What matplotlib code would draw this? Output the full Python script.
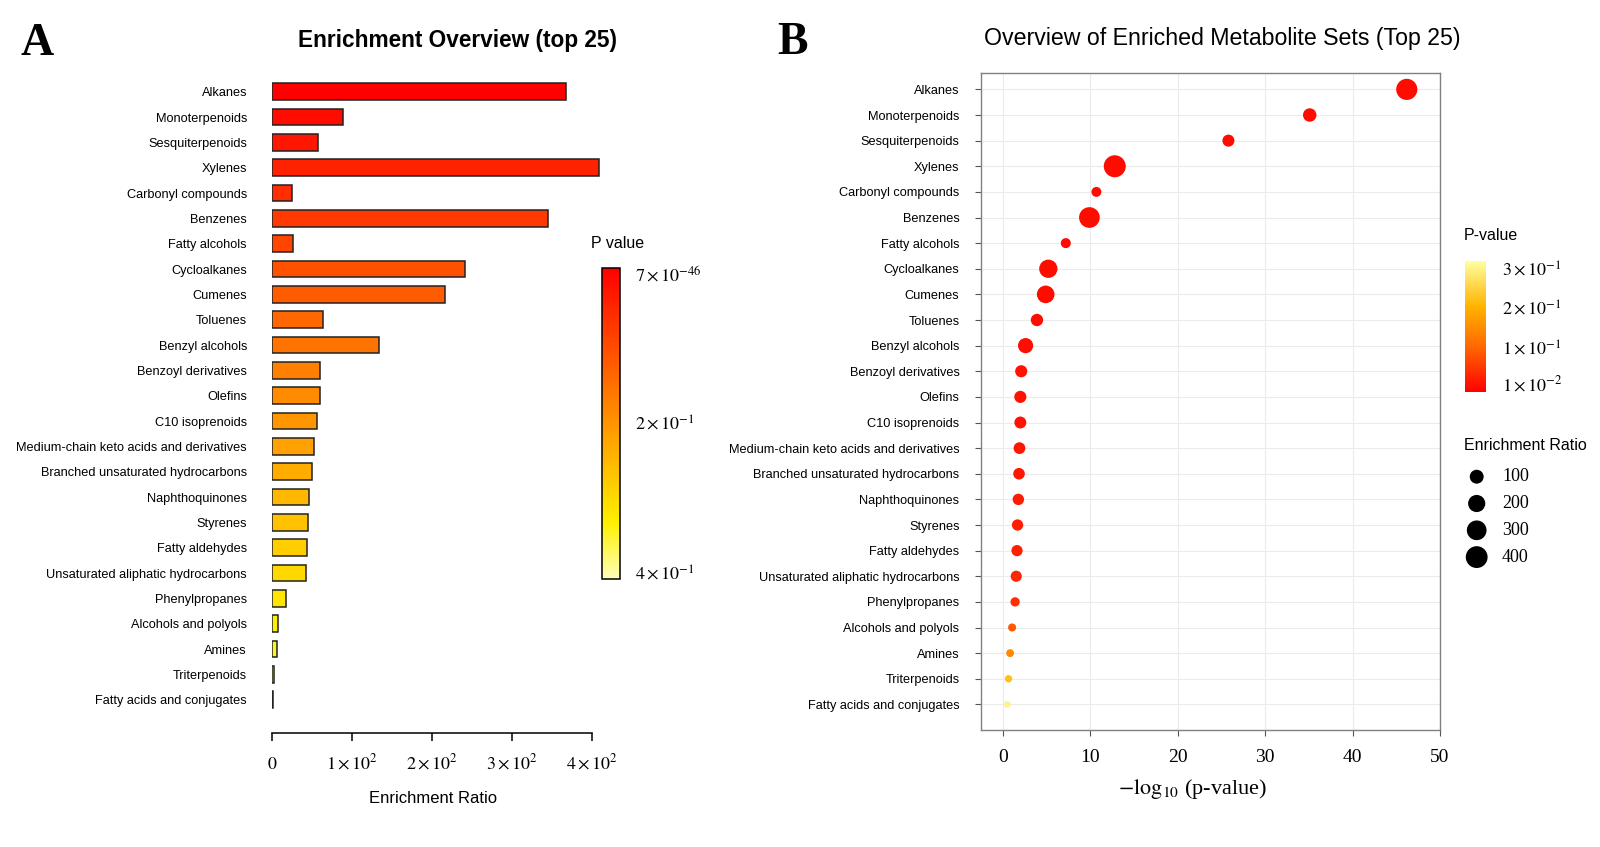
import matplotlib
matplotlib.use('Agg')
import matplotlib.pyplot as plt
import numpy as np
from matplotlib.colors import LinearSegmentedColormap, Normalize
from matplotlib.cm import ScalarMappable

plt.rcParams['font.family'] = ['Liberation Sans', 'DejaVu Sans']
plt.rcParams['mathtext.fontset'] = 'stix'

# metabolite sets, top 25
categories = ['Alkanes', 'Monoterpenoids', 'Sesquiterpenoids', 'Xylenes',
              'Carbonyl compounds', 'Benzenes', 'Fatty alcohols', 'Cycloalkanes',
              'Cumenes', 'Toluenes', 'Benzyl alcohols', 'Benzoyl derivatives',
              'Olefins', 'C10 isoprenoids', 'Medium-chain keto acids and derivatives',
              'Branched unsaturated hydrocarbons', 'Naphthoquinones', 'Styrenes',
              'Fatty aldehydes', 'Unsaturated aliphatic hydrocarbons', 'Phenylpropanes',
              'Alcohols and polyols', 'Amines', 'Triterpenoids', 'Fatty acids and conjugates']

enrichment_ratio = [367, 88.5, 58, 408, 24.7, 344.5, 26, 241, 216, 64, 134, 60, 60,
                    56.6, 52.8, 50, 46.4, 45, 43.8, 42.6, 17, 7, 5.7, 3.1, 1.0]

neg_log10_p = [46.2, 35.1, 25.8, 12.8, 10.7, 9.9, 7.2, 5.2, 4.9, 3.9, 2.6, 2.1, 2.0,
               2.0, 1.9, 1.85, 1.77, 1.68, 1.62, 1.53, 1.4, 1.06, 0.83, 0.65, 0.52]

# axis / legend labels
er_ticks = [0, 100, 200, 300, 400]
er_tick_labels = [r'$0$', r'$1\times10^{2}$', r'$2\times10^{2}$', r'$3\times10^{2}$', r'$4\times10^{2}$']
pa_ticks = [7e-46, 0.2, 0.4]
pa_tick_labels = [r'$7\times10^{-46}$', r'$2\times10^{-1}$', r'$4\times10^{-1}$']
pb_ticks = [0.01, 0.1, 0.2, 0.3]
pb_tick_labels = [r'$1\times10^{-2}$', r'$1\times10^{-1}$', r'$2\times10^{-1}$', r'$3\times10^{-1}$']
logp_ticks = [0, 10, 20, 30, 40, 50]
size_breaks = [100, 200, 300, 400]

W, H = 1600, 847
n = len(categories)
ypos = np.arange(n)
pvals = 10 ** (-np.array(neg_log10_p))

cmap_a = LinearSegmentedColormap.from_list('heat_a', [(0, '#FF0000'), (0.5, '#FF9500'),
                                                      (0.82, '#FFF000'), (1, '#FFFFB8')])
cmap_b = LinearSegmentedColormap.from_list('heat_b', [(0, '#FF0000'), (0.35, '#FF6A00'),
                                                      (0.65, '#FFB300'), (1, '#FFFFA0')])


def fig_box(x0, y0, x1, y1):
    # pixel box (top-left origin) -> figure fraction rect
    return [x0 / W, 1 - y1 / H, (x1 - x0) / W, (y1 - y0) / H]


def dot_size(er):
    d_px = 6 + 16 * np.sqrt(np.asarray(er, dtype=float) / 409)
    return (d_px * 0.72) ** 2


fig = plt.figure(figsize=(16, 8.47), dpi=100)

# ---------------- panel A ----------------
ax1 = fig.add_axes(fig_box(272, 74, 272 + 420 * 0.801, 732.7))
bar_colors = cmap_a(np.linspace(0, 0.93, n))
ax1.barh(ypos, enrichment_ratio, height=0.66, color=bar_colors,
         edgecolor='#222222', linewidth=1.1)
ax1.set_xlim(0, 420)
ax1.set_ylim(25.3, -0.7)
for s in ['top', 'right', 'left']:
    ax1.spines[s].set_visible(False)
ax1.spines['bottom'].set_bounds(0, 400)
ax1.spines['bottom'].set_linewidth(1.1)
ax1.set_xticks(er_ticks)
ax1.set_xticklabels(er_tick_labels, fontsize=13)
for t in ax1.get_xticklabels():
    t.set_va('baseline')
ax1.tick_params(axis='x', length=6, width=1.1, pad=20)
ax1.set_yticks(ypos)
ax1.set_yticklabels(categories, fontsize=9.2)
ax1.tick_params(axis='y', length=0, pad=18)

fig.text(433 / W, 1 - 798 / H, 'Enrichment Ratio', ha='center', va='center', fontsize=12)
fig.text(458 / W, 1 - 40 / H, 'Enrichment Overview (top 25)', ha='center', va='center',
         fontsize=16.3, weight='bold')
fig.text(37.5 / W, 1 - 44 / H, 'A', ha='center', va='center', fontsize=33,
         weight='bold', family=['Liberation Serif'])

cax1 = fig.add_axes(fig_box(602.3, 267.7, 620, 579))
sm1 = ScalarMappable(norm=Normalize(-0.007, 0.408), cmap=cmap_a)
cb1 = fig.colorbar(sm1, cax=cax1)
cax1.invert_yaxis()
cb1.set_ticks(pa_ticks)
cb1.set_ticklabels(pa_tick_labels, fontsize=13)
cb1.outline.set_linewidth(1.1)
cax1.tick_params(length=0, pad=11)
fig.text(618 / W, 1 - 243 / H, 'P value', ha='center', va='center', fontsize=11.5)

# ---------------- panel B ----------------
ax2 = fig.add_axes(fig_box(981, 73.5, 1440, 730))
normb = Normalize(-0.012, 0.32)
ax2.scatter(neg_log10_p, ypos, s=dot_size(enrichment_ratio), c=cmap_b(normb(pvals)),
            edgecolors='none', zorder=3)
ax2.set_xlim(-2.5, 50)
ax2.set_ylim(25.0, -0.62)
ax2.set_xticks(logp_ticks)
ax2.set_xticklabels([str(v) for v in logp_ticks], fontsize=14, family=['Liberation Serif'])
ax2.set_yticks(ypos)
ax2.set_yticklabels(categories, fontsize=9.2)
ax2.tick_params(axis='both', length=4, width=0.8, color='#555555')
ax2.tick_params(axis='y', pad=11.5)
ax2.tick_params(axis='x', pad=10)
ax2.grid(True, color='#ebebeb', linewidth=0.8, zorder=0)
ax2.set_axisbelow(True)
for s in ax2.spines.values():
    s.set_color('#808080')
    s.set_linewidth(1.0)

fig.text(1192 / W, 1 - 789 / H, r'$-\mathrm{log}_{10}$ (p-value)', ha='center', va='center',
         fontsize=16, family=['Liberation Serif'])
fig.text(1222 / W, 1 - 38 / H, 'Overview of Enriched Metabolite Sets (Top 25)',
         ha='center', va='center', fontsize=16.7)
fig.text(793 / W, 1 - 43 / H, 'B', ha='center', va='center', fontsize=33,
         weight='bold', family=['Liberation Serif'])

cax2 = fig.add_axes(fig_box(1465, 260.7, 1486, 391.7))
cb2 = fig.colorbar(ScalarMappable(norm=normb, cmap=cmap_b), cax=cax2)
cb2.set_ticks(pb_ticks)
cb2.set_ticklabels(pb_tick_labels, fontsize=13)
cb2.outline.set_visible(False)
cax2.tick_params(length=0, pad=11.5)
fig.text(1464 / W, 1 - 235 / H, 'P-value', ha='left', va='center', fontsize=11.5)

# size legend
fig.text(1464 / W, 1 - 445 / H, 'Enrichment Ratio', ha='left', va='center', fontsize=11.5)
leg = fig.add_axes([0, 0, 1, 1])
leg.set_xlim(0, W)
leg.set_ylim(H, 0)
leg.axis('off')
leg_y = 476.7 + 26.8 * np.arange(len(size_breaks))
leg.scatter([1476.7] * len(size_breaks), leg_y, s=dot_size(size_breaks), c='black',
            edgecolors='none')
for yy, v in zip(leg_y, size_breaks):
    leg.text(1502, yy, str(v), ha='left', va='center', fontsize=13,
             family=['Liberation Serif'])

fig.savefig('out.png', dpi=100)
